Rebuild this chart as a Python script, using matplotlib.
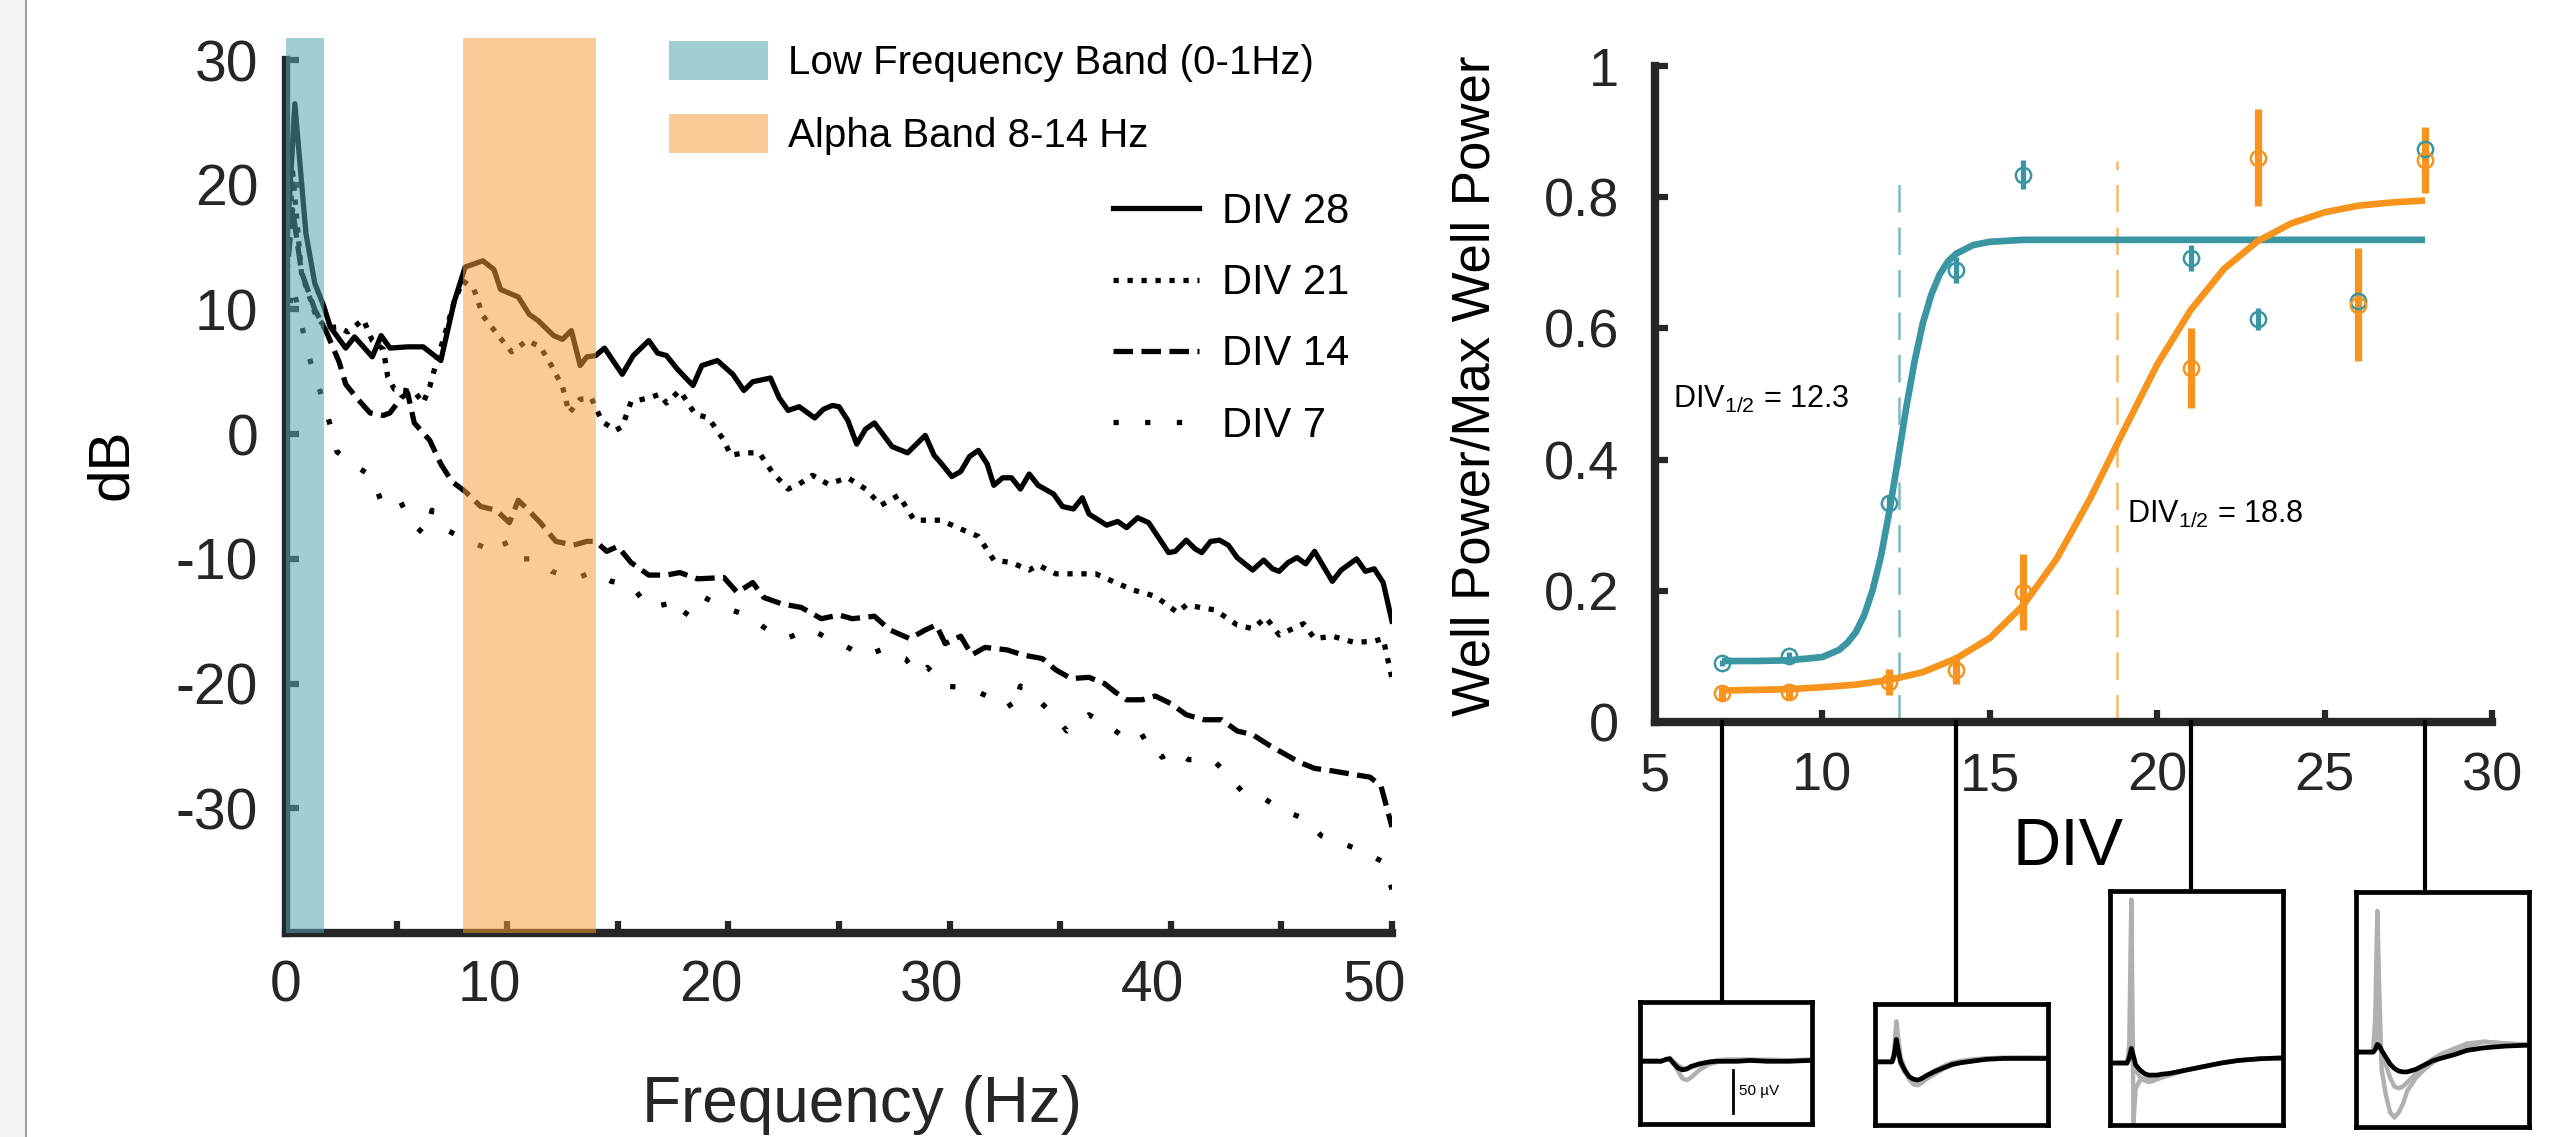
import matplotlib
matplotlib.use("Agg")
import matplotlib.pyplot as plt
from matplotlib.patches import Rectangle
from matplotlib.lines import Line2D
from matplotlib.transforms import ScaledTranslation, blended_transform_factory

plt.rcParams['font.family'] = ['Liberation Sans', 'DejaVu Sans']
plt.rcParams['mathtext.fontset'] = 'custom'
plt.rcParams['mathtext.rm'] = 'Liberation Sans'
plt.rcParams['axes.unicode_minus'] = False

# ---------------------------------------------------------
# Data: power spectra (dB) per DIV
# ---------------------------------------------------------
f28 = [0, 0.4, 0.9, 1.3, 1.7, 2.0, 2.7, 3.1, 3.9, 4.3, 4.7, 5.5, 6.2, 7.0, 7.6, 8.1, 8.9, 9.4, 9.7, 10.5,
       11.0, 11.4, 12.1, 12.5, 12.9, 13.3, 13.6, 14.0, 14.4, 15.2, 15.7, 16.4, 16.8, 17.2, 17.7, 18.4, 18.8,
       19.5, 20.2, 20.7, 21.1, 21.9, 22.3, 22.7, 23.2, 23.9, 24.3, 24.7, 25.0, 25.4, 25.8, 26.2, 26.6, 27.4,
       28.1, 28.9, 29.3, 29.6, 30.1, 30.5, 30.9, 31.3, 31.7, 32.0, 32.4, 32.8, 33.2, 33.6, 34.0, 34.7, 35.1,
       35.6, 36.0, 36.3, 37.1, 37.6, 38.0, 38.5, 39.0, 39.9, 40.2, 40.7, 41.1, 41.4, 41.8, 42.2, 42.6, 43.0,
       43.7, 44.2, 44.6, 44.9, 45.3, 45.7, 46.1, 46.5, 46.8, 47.3, 47.7, 48.4, 48.8, 49.2, 49.6, 50.0]
db28 = [14, 26.5, 16.1, 12.1, 10.3, 8.6, 6.9, 7.8, 6.2, 7.9, 6.9, 7.0, 7.0, 5.9, 10.6, 13.4, 13.9, 13.2, 11.6, 11.0,
        9.6, 9.1, 7.9, 7.6, 8.3, 5.5, 6.2, 6.3, 6.9, 4.8, 6.3, 7.5, 6.5, 6.3, 5.2, 3.9, 5.5,
        5.9, 4.8, 3.5, 4.2, 4.5, 2.9, 1.9, 2.2, 1.3, 2.0, 2.3, 2.2, 1.1, -0.8, 0.4, 0.9, -1.0,
        -1.5, -0.1, -1.7, -2.3, -3.4, -3.0, -1.8, -1.3, -2.4, -4.1, -3.5, -3.5, -4.4, -3.2, -4.1, -4.8, -5.8,
        -6.0, -5.1, -6.4, -7.3, -7.0, -7.5, -6.7, -7.1, -9.5, -9.4, -8.5, -9.2, -9.5, -8.6, -8.5, -8.9, -9.9,
        -10.9, -10.1, -10.8, -11.0, -10.3, -9.9, -10.4, -9.4, -10.3, -11.8, -10.9, -10.0, -11.0, -10.8, -11.9, -15.0]

f21 = [0, 0.3, 0.7, 1.35, 1.8, 2.3, 2.8, 3.5, 3.9, 4.4, 4.6, 4.9, 5.4, 5.9, 6.2, 6.5, 6.8, 7.2, 7.6, 8.0,
       8.5, 8.9, 9.6, 10.2, 10.9, 11.5, 12.0, 12.5, 12.8, 13.3, 13.8, 14.3, 14.9, 15.2, 15.6, 16.4, 16.9,
       17.2, 17.8, 18.5, 19.1, 19.8, 20.1, 20.7, 21.4, 22.0, 22.7, 23.2, 23.8, 24.5, 25.4, 26.2, 26.9, 27.7,
       28.4, 29.6, 30.5, 31.3, 32.0, 32.8, 33.6, 34.0, 34.8, 35.8, 36.6, 37.5, 38.3, 39.3, 40.3, 40.7, 42.0,
       43.0, 43.7, 44.3, 44.9, 46.0, 46.5, 47.3, 48.3, 49.2, 49.6, 50.0]
db21 = [12, 21, 12.9, 9.5, 8.5, 8.6, 8.2, 9.2, 7.5, 6.8, 4.6, 3.6, 3.5, 3.2, 2.5, 3.8, 5.8, 8.1, 10.6, 12.3,
        11.6, 9.5, 7.9, 6.6, 7.5, 7.0, 5.5, 3.8, 1.7, 2.8, 2.9, 1.0, 0.3, 0.6, 2.6, 2.9, 3.2,
        2.5, 3.5, 1.6, 1.3, -0.5, -1.7, -1.5, -1.5, -3.1, -4.4, -4.0, -3.3, -4.0, -3.5, -4.4, -5.7, -4.9,
        -6.9, -6.9, -7.6, -8.2, -10.1, -10.3, -10.9, -10.5, -11.2, -11.2, -11.2, -11.9, -12.5, -13.0, -14.3, -13.7, -14.1,
        -15.3, -15.6, -14.7, -16.1, -15.2, -16.4, -16.2, -16.7, -16.6, -16.4, -19.6]

f14 = [0, 0.3, 0.7, 1.3, 1.8, 2.4, 2.7, 3.2, 3.8, 4.4, 4.7, 5.2, 5.5, 5.8, 6.5, 7.0, 7.5, 8.1, 8.8, 9.5,
       10.1, 10.5, 10.9, 11.5, 12.2, 13.0, 13.6, 14.0, 14.5, 15.0, 15.6, 16.4, 17.2, 17.8, 18.6, 19.8, 20.4,
       21.1, 21.6, 22.4, 23.3, 24.2, 25.0, 25.6, 26.6, 27.3, 28.2, 28.9, 29.4, 29.8, 30.5, 31.0, 31.6, 32.6,
       33.3, 34.2, 34.8, 35.5, 36.3, 37.0, 37.5, 38.0, 38.7, 39.3, 40.0, 40.7, 41.5, 42.3, 43.0, 43.7, 44.5,
       45.1, 45.8, 46.5, 47.3, 48.3, 49.0, 49.5, 50.0]
db14 = [12, 18, 13, 10, 8.3, 5.8, 4.0, 2.9, 1.7, 1.5, 1.7, 2.9, 3.3, 0.9, -0.5, -2.4, -3.8, -4.6, -5.8, -6.1,
        -7.1, -5.3, -6.0, -7.1, -8.6, -8.9, -8.6, -8.6, -9.4, -9.0, -10.3, -11.3, -11.3, -11.1, -11.6, -11.5, -12.7,
        -11.9, -13.1, -13.6, -13.9, -14.8, -14.5, -14.8, -14.6, -15.7, -16.4, -15.7, -15.3, -16.8, -16.2, -17.7, -17.1, -17.3,
        -17.7, -18.0, -18.9, -19.6, -19.5, -20.0, -20.7, -21.3, -21.3, -21.0, -21.6, -22.5, -22.9, -22.9, -23.8, -24.1, -25.0,
        -25.6, -26.3, -26.8, -27.0, -27.3, -27.5, -28.2, -31.5]

f7 = [0, 0.3, 0.94, 1.26, 1.67, 2.0, 2.3, 3.0, 3.9, 4.3, 5.1, 5.6, 6.3, 6.6, 7.2, 8.0, 9.0, 9.8, 10.2, 11.3,
      12.0, 13.1, 13.9, 14.7, 15.6, 16.4, 17.3, 17.9, 18.7, 19.8, 20.8, 21.7, 22.6, 23.7, 24.4, 25.2, 26.1,
      26.9, 28.0, 28.6, 29.0, 29.8, 30.5, 31.2, 31.8, 32.5, 32.9, 33.2, 34.0, 34.8, 35.3, 36.3, 37.3, 38.2,
      38.9, 39.6, 40.2, 40.8, 41.9, 42.4, 43.2, 44.2, 45.1, 46.0, 46.8, 47.6, 48.6, 49.6, 50.0]
db7 = [8, 12, 6.9, 4.8, 2.8, 0.7, -1.4, -2.4, -3.4, -5.4, -5.1, -7.0, -8.1, -6.1, -7.6, -8.4, -9.1, -8.3, -10.0, -10.0,
       -11.0, -11.6, -11.0, -11.8, -12.1, -13.9, -13.6, -14.8, -12.9, -13.9, -14.5, -15.6, -16.4, -15.6, -16.3, -16.9, -17.8,
       -17.3, -18.0, -19.3, -18.7, -20.2, -20.3, -20.6, -21.1, -21.1, -22.2, -20.2, -21.3, -22.7, -23.8, -22.5, -23.5, -24.8,
       -24.1, -25.9, -25.3, -26.1, -26.1, -27.0, -28.6, -29.2, -30.2, -30.8, -32.2, -32.7, -33.4, -34.3, -36.5]

low_band = (0, 1.7)
alpha_band = (8, 14)

# ---------------------------------------------------------
# Data: normalised well power vs DIV
# ---------------------------------------------------------
div_days = [7, 9, 12, 14, 16, 21, 23, 26, 28]
low_power = [0.09, 0.10, 0.334, 0.689, 0.834, 0.707, 0.614, 0.642, 0.873]
low_err = [0.005, 0.006, 0.01, 0.02, 0.022, 0.02, 0.017, 0.012, 0.012]
alpha_power = [0.044, 0.046, 0.061, 0.08, 0.198, 0.54, 0.86, 0.636, 0.857]
alpha_err = [0.01, 0.012, 0.02, 0.022, 0.058, 0.061, 0.074, 0.086, 0.05]

fit_x_low = [7, 8, 9, 10, 10.5, 10.75, 11, 11.25, 11.5, 11.75, 12, 12.25, 12.5, 12.75, 13,
             13.25, 13.5, 13.75, 14, 14.5, 15, 16, 18, 22, 28]
fit_low = [0.093, 0.093, 0.094, 0.099, 0.110, 0.121, 0.137, 0.163, 0.201, 0.253, 0.321, 0.398, 0.478, 0.549, 0.608,
           0.651, 0.682, 0.702, 0.714, 0.727, 0.732, 0.735, 0.735, 0.735, 0.735]
fit_x_alpha = [7, 8, 9, 10, 11, 12, 13, 14, 15, 16, 17, 18, 19, 20, 21, 22, 23, 24, 25, 26, 27, 28]
fit_alpha = [0.048, 0.049, 0.050, 0.053, 0.057, 0.064, 0.076, 0.097, 0.128, 0.178, 0.249,
             0.341, 0.444, 0.545, 0.628, 0.691, 0.733, 0.760, 0.777, 0.787, 0.792, 0.795]
half_low, half_alpha = 12.3, 18.8

# ---------------------------------------------------------
# Data: example spike waveforms (uV) at DIV 7, 14, 21, 28
# ---------------------------------------------------------
wave_t = [0, 0.4, 0.45, 0.5, 0.55, 0.6, 0.7, 0.8, 0.9, 1.0, 1.1, 1.2, 1.4, 1.6, 1.8, 2.0, 2.3, 2.6, 3.0, 3.5, 4.0]
inset_days = [7, 14, 21, 28]
wave_mean = [
    [0, 0, 0, 0, 1, 2, 3, -3, -8, -10, -9, -6, -3, -1, 0, 0, 0, 1, 0, 0, 1],
    [0, 0, 8, 26, 12, 0, -10, -17, -20, -21, -19, -16, -11, -7, -3, -1, 1, 3, 4, 4, 4],
    [0, 0, 6, 17, 8, -2, -8, -12, -14, -14, -14, -13, -12, -10, -8, -6, -3, 0, 3, 5, 6],
    [0, 0, 3, 9, 7, 2, -6, -14, -19, -22, -23, -23, -20, -15, -10, -7, -3, 2, 5, 7, 8],
]
wave_single = [
    [[0, 0, 0, 0, 1, 2, 4, -2, -12, -20, -22, -19, -10, -4, -1, 1, 2, 2, 1, 1, 1],
     [1, 1, 0, 1, 1, 2, 3, -1, -5, -8, -9, -7, -4, -1, 1, 2, 2, 1, 2, 1, 2]],
    [[0, 1, 15, 47, 25, 5, -8, -20, -26, -27, -24, -20, -14, -8, -4, -1, 2, 4, 5, 5, 5],
     [0, 0, 5, 18, 8, -3, -12, -19, -22, -22, -20, -16, -10, -5, -1, 1, 3, 4, 4, 5, 4]],
    [[0, 0, 20, 190, -69, -30, -20, -18, -17, -16, -15, -14, -12, -10, -8, -6, -3, 0, 3, 5, 6],
     [0, 1, 4, 12, 4, -8, -16, -20, -22, -21, -19, -17, -14, -11, -8, -6, -3, 0, 3, 5, 5]],
    [[0, 0, 40, 164, 60, -20, -50, -70, -76, -70, -60, -45, -30, -20, -12, -6, 0, 6, 12, 10, 9],
     [0, 1, 10, 40, 20, 0, -15, -30, -40, -42, -40, -35, -25, -15, -8, -2, 4, 10, 12, 10, 8]],
]
inset_ylim = [(-73, 69), (-73, 67), (-72, 200), (-87, 186)]

# ---------------------------------------------------------
# Figure
# ---------------------------------------------------------
W, H = 2557, 1137
fig = plt.figure(figsize=(W / 100, H / 100), dpi=100)


def fbox(x0, y0, x1, y1):
    # pixel box (top-left origin) -> figure fraction rect
    return [x0 / W, 1 - y1 / H, (x1 - x0) / W, (y1 - y0) / H]


INK = '#262626'
TEAL = '#3A96A2'
ORANGE = '#F7941D'

# screenshot edge on the left
fig.add_artist(Rectangle((0, 0), 26 / W, 1, transform=fig.transFigure,
                         facecolor='#f3f3f3', edgecolor='none', zorder=0))
fig.add_artist(Line2D([26 / W, 26 / W], [0, 1], transform=fig.transFigure, color='#8a8a8a', lw=1.2))

# ---- left: spectra ----
ax1 = fig.add_axes(fbox(286, 60, 1392, 933))
l28, = ax1.plot(f28, db28, color='k', lw=3.8, ls='-', label='DIV 28')
l21, = ax1.plot(f21, db21, color='k', lw=3.8, ls=':', label='DIV 21')
l14, = ax1.plot(f14, db14, color='k', lw=3.8, ls='--', label='DIV 14')
l7, = ax1.plot(f7, db7, color='k', lw=3.8, ls=(0, (1, 5.0)), label='DIV 7')

b1 = ax1.axvspan(*low_band, ymin=0, ymax=1.025, facecolor='#55A4AF', alpha=0.55,
                 lw=0, zorder=3, clip_on=False)
b2 = ax1.axvspan(*alpha_band, ymin=0, ymax=1.025, facecolor='#F5A039', alpha=0.53,
                 lw=0, zorder=3, clip_on=False)

ax1.set_xlim(0, 50)
ax1.set_ylim(-40, 30)
ax1.set_xticks([0, 10, 20, 30, 40, 50])
ax1.set_xticks([5, 15, 25, 35, 45], minor=True)
ax1.set_yticks([-30, -20, -10, 0, 10, 20, 30])
for s in ['top', 'right']:
    ax1.spines[s].set_visible(False)
for s in ['left', 'bottom']:
    ax1.spines[s].set_linewidth(6)
    ax1.spines[s].set_color(INK)
ax1.tick_params(which='both', direction='in', length=9, width=4.5, color=INK,
                labelsize=41, labelcolor=INK)
ax1.tick_params(axis='x', pad=19)
ax1.tick_params(axis='y', pad=20)
for lbl, v in zip(ax1.get_xticklabels(), [0, 10, 20, 30, 40, 50]):
    if v:
        lbl.set_transform(lbl.get_transform() + ScaledTranslation(-0.18, 0, fig.dpi_scale_trans))

fig.text(112 / W, 1 - 464 / H, 'dB', rotation=90, ha='center', va='center', fontsize=42, color='k')
fig.text(862 / W, 1 - 1122 / H, 'Frequency (Hz)', ha='center', va='baseline', fontsize=46, color=INK)

fig.legend([b1, b2], ['Low Frequency Band (0-1Hz)', 'Alpha Band 8-14 Hz'],
           loc='upper left', bbox_to_anchor=(669 / W, 1 - 41 / H), frameon=False,
           fontsize=29, handlelength=2.45, handleheight=1.1, handletextpad=0.5,
           labelspacing=0.8, borderpad=0, borderaxespad=0)
fig.legend([l28, l21, l14, l7], ['DIV 28', 'DIV 21', 'DIV 14', 'DIV 7'],
           loc='upper left', bbox_to_anchor=(1113 / W, 1 - 192 / H), frameon=False,
           fontsize=30, handlelength=2.06, handletextpad=0.55,
           labelspacing=0.75, borderpad=0, borderaxespad=0)

# ---- right: normalised power ----
ax2 = fig.add_axes(fbox(1655, 66, 2492, 722))
ax2.plot([half_low, half_low], [0, 0.84], color=TEAL, alpha=0.65, lw=1.8, dashes=(11, 6))
ax2.plot([half_alpha, half_alpha], [0, 0.855], color=ORANGE, alpha=0.65, lw=1.8, dashes=(11, 6))
ax2.plot(fit_x_low, fit_low, color=TEAL, lw=4.8, solid_capstyle='butt')
ax2.plot(fit_x_alpha, fit_alpha, color=ORANGE, lw=4.8, solid_capstyle='butt')
ax2.errorbar(div_days, low_power, yerr=low_err, fmt='o', mfc='none', mec=TEAL, ms=11, mew=1.8,
             ecolor=TEAL, elinewidth=3.8, capsize=0)
ax2.errorbar(div_days, alpha_power, yerr=alpha_err, fmt='o', mfc='none', mec=ORANGE, ms=11, mew=1.8,
             ecolor=ORANGE, elinewidth=5.2, capsize=0)
ax2.text(5.54, 0.479, r'DIV$_\mathregular{1/2}$ = 12.3', fontsize=22, va='baseline', ha='left')
ax2.text(19.1, 0.303, r'DIV$_\mathregular{1/2}$ = 18.8', fontsize=22, va='baseline', ha='left')

ax2.set_xlim(5, 30)
ax2.set_ylim(0, 1)
ax2.set_xticks([5, 10, 15, 20, 25, 30])
ax2.set_yticks([0, 0.2, 0.4, 0.6, 0.8, 1])
ax2.set_yticklabels(['0', '0.2', '0.4', '0.6', '0.8', '1'])
for s in ['top', 'right']:
    ax2.spines[s].set_visible(False)
for s in ['left', 'bottom']:
    ax2.spines[s].set_linewidth(6)
    ax2.spines[s].set_color(INK)
ax2.tick_params(direction='in', length=9, width=4.5, color=INK, labelsize=39, labelcolor=INK)
ax2.tick_params(axis='x', pad=21)
ax2.tick_params(axis='y', pad=26)

fig.text(1476 / W, 1 - 386 / H, 'Well Power/Max Well Power', rotation=90,
         ha='center', va='center', fontsize=38, color='k')
fig.text(2068 / W, 1 - 865 / H, 'DIV', ha='center', va='baseline', fontsize=48, color='k')

# ---- spike waveform insets ----
inset_px = [(1640, 1002, 1812, 1124), (1875, 1004, 2048, 1125),
            (2110, 891, 2283, 1125), (2356, 892, 2529, 1127)]
conn = blended_transform_factory(ax2.transData, fig.transFigure)
for i, day in enumerate(inset_days):
    axi = fig.add_axes(fbox(*inset_px[i]))
    for g in wave_single[i]:
        axi.plot(wave_t, g, color='#b0b0b0', lw=3.2)
    axi.plot(wave_t, wave_mean[i], color='k', lw=3.4)
    axi.set_xlim(0, 4.05)
    axi.set_ylim(*inset_ylim[i])
    axi.set_xticks([])
    axi.set_yticks([])
    for s in axi.spines.values():
        s.set_linewidth(3.4)
        s.set_color('k')
    top = axi.get_position().y1
    fig.add_artist(Line2D([day, day], [1 - 722 / H, top], transform=conn, color='k', lw=3))
    if i == 0:
        axi.plot([2.19, 2.19], [-10, -60], color='k', lw=2)
        axi.text(2.33, -35, '50 µV', fontsize=11, va='center', ha='left')

fig.savefig('out.png', dpi=100)
